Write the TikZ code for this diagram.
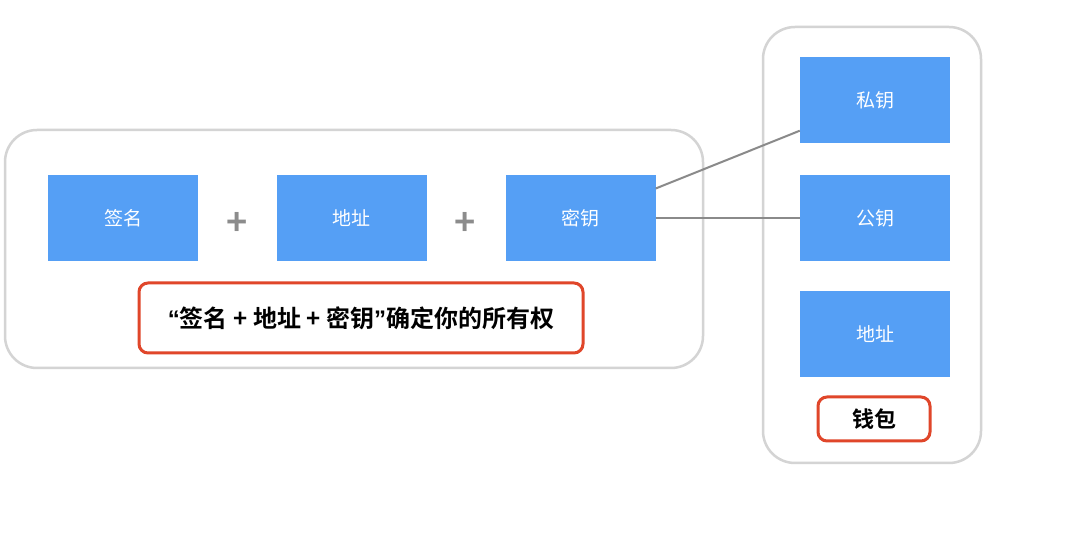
\documentclass[tikz,border=0pt]{standalone}
\usepackage{fontspec}
\newfontfamily\cjk{Noto Sans CJK SC}
\newfontfamily\cjkb{Noto Sans CJK SC Bold}
\newfontfamily\latb{Liberation Sans Bold}
\definecolor{bluebox}{HTML}{559FF5}
\definecolor{redframe}{HTML}{E0462A}
\definecolor{frame}{HTML}{D4D4D4}
\definecolor{conn}{HTML}{8A8A8A}
\definecolor{plusc}{HTML}{8C8C8C}
\begin{document}
\begin{tikzpicture}[x=1pt,y=-1pt,
  bluebox/.style={fill=bluebox,draw=none,minimum width=150pt,minimum height=86pt,inner sep=0pt,text=white,font=\cjk\fontsize{19}{19}\selectfont},
  group/.style={draw=frame,line width=2.5pt,rounded corners=32pt,fill=white},
  redbox/.style={draw=redframe,line width=3pt,rounded corners=9pt,fill=white,inner sep=0pt,font=\cjkb\fontsize{22}{22}\selectfont},
  plussign/.style={text=plusc,font=\cjkb\fontsize{36}{36}\selectfont,inner sep=0pt},
  connector/.style={draw=conn,line width=2pt}]
\useasboundingbox (0,0) rectangle (1080,537);
\fill[white] (0,0) rectangle (1080,537);
% group frames
\draw[group] (5,130) rectangle (703,368);
\draw[group] (763,27) rectangle (981,463);
% left blue boxes
\node[bluebox] (sig) at (123,218.5) {签名};
\node[bluebox] (addr) at (351.5,218.5) {地址};
\node[bluebox] (key) at (580.5,218.5) {密钥};
\node[plussign] (p1) at (237,224) {+};
\node[plussign] (p2) at (465,224) {+};
% right blue boxes
\node[bluebox] (priv) at (875,100.5) {私钥};
\node[bluebox] (pub) at (875,218.5) {公钥};
\node[bluebox] (waddr) at (875,334.5) {地址};
% red boxes
\node[redbox,minimum width=444pt,minimum height=70pt,font=\cjkb\fontsize{24}{24}\selectfont] (own) at (361,318) {{\latb “}签名 + 地址 + 密钥{\latb ”}确定你的所有权\hspace{16pt}};
\node[redbox,minimum width=112pt,minimum height=44pt] (wallet) at (874,419) {钱包};
% connectors
\draw[connector] ([yshift=30pt]key.east) -- ([yshift=13pt]priv.south west);
\draw[connector] (key.east) -- (pub.west);
\end{tikzpicture}
\end{document}
